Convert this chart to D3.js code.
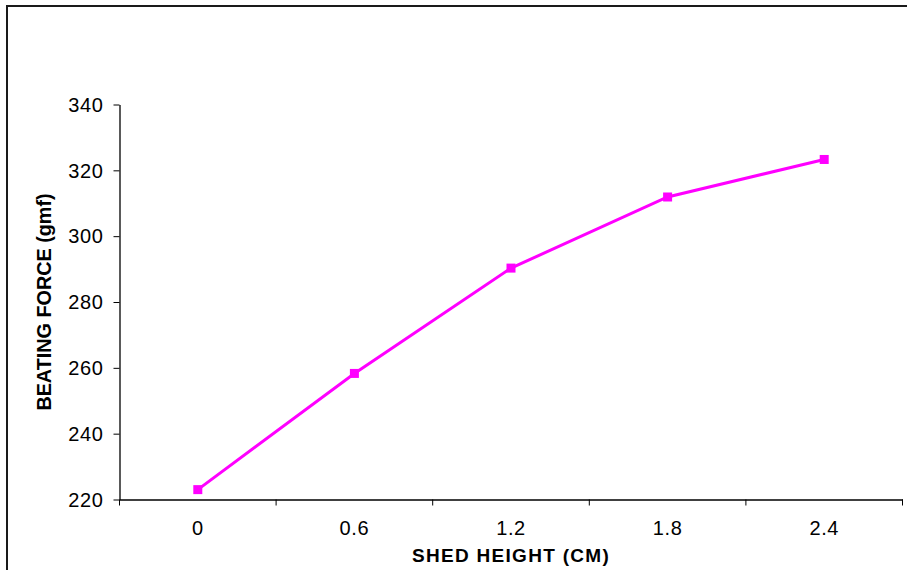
<!DOCTYPE html>
<html>
<head>
<meta charset="utf-8">
<script src="https://cdn.jsdelivr.net/npm/d3@7"></script>
<style>
  body { margin: 0; background: #fff; }
  svg { display: block; }
  text { font-family: "Liberation Sans", Arial, sans-serif; fill: #000; }
</style>
</head>
<body>
<svg id="chart" width="907" height="570"></svg>
<script>
// Data
var shedHeights = ["0", "0.6", "1.2", "1.8", "2.4"];
var beatingForce = [223, 258.3, 290.3, 311.9, 323.3];
var yTicks = [220, 240, 260, 280, 300, 320, 340];

// Plot area
var plot = {left: 119.5, right: 902.5, top: 104.5, bottom: 499.5};

var svg = d3.select("#chart");

// outer frame (runs off the right and bottom edge)
svg.append("rect")
  .attr("x", 7).attr("y", 6)
  .attr("width", 920).attr("height", 600)
  .style("fill", "none")
  .style("stroke", "#1a1a1a")
  .style("stroke-width", 2);

var x = d3.scaleBand()
  .domain(shedHeights)
  .range([plot.left, plot.right]);

var y = d3.scaleLinear()
  .domain([220, 340])
  .range([plot.bottom, plot.top]);

// y axis
var yAxis = svg.append("g")
  .attr("transform", "translate(" + plot.left + ",0)")
  .call(d3.axisLeft(y).tickValues(yTicks).tickSize(6).tickSizeOuter(0).tickPadding(10));

// x axis, ticks between categories like the original
var xAxis = svg.append("g")
  .attr("transform", "translate(0," + plot.bottom + ")")
  .call(d3.axisBottom(x).tickSize(0).tickPadding(21));

xAxis.selectAll(".tick-sep")
  .data(d3.range(shedHeights.length + 1))
  .enter()
  .append("line")
    .attr("class", "tick-sep")
    .attr("x1", function(i) { return plot.left + i * x.step(); })
    .attr("x2", function(i) { return plot.left + i * x.step(); })
    .attr("y1", 0).attr("y2", 6)
    .style("stroke", "#000");

[xAxis, yAxis].forEach(function(a) {
  a.select(".domain").style("stroke", "#000").style("stroke-width", 1.3);
  a.selectAll("line").style("stroke", "#000");
  a.selectAll("text")
    .style("font-family", "'Liberation Sans', Arial, sans-serif")
    .style("font-size", "20px")
    .style("letter-spacing", "0.6px")
    .style("fill", "#000");
});
yAxis.selectAll("text").attr("dy", "0.34em");

// axis titles
svg.append("text")
  .attr("x", (plot.left + plot.right) / 2)
  .attr("y", 562)
  .attr("text-anchor", "middle")
  .style("font-size", "19px")
  .style("font-weight", "bold")
  .style("letter-spacing", "1.3px")
  .text("SHED HEIGHT (CM)");

svg.append("text")
  .attr("transform", "translate(51," + (plot.top + plot.bottom) / 2 + ") rotate(-90)")
  .attr("text-anchor", "middle")
  .style("font-size", "19.8px")
  .style("font-weight", "bold")
  .text("BEATING FORCE (gmf)");

// series
var pts = shedHeights.map(function(h, i) { return {h: h, v: beatingForce[i]}; });
var cx = function(d) { return x(d.h) + x.bandwidth() / 2; };

svg.append("path")
  .datum(pts)
  .attr("d", d3.line().x(cx).y(function(d) { return y(d.v); }))
  .style("fill", "none")
  .style("stroke", "#ff00ff")
  .style("stroke-width", 3);

svg.append("g").selectAll("rect")
  .data(pts)
  .enter()
  .append("rect")
    .attr("x", function(d) { return cx(d) - 4.5; })
    .attr("y", function(d) { return y(d.v) - 4.5; })
    .attr("width", 9)
    .attr("height", 9)
    .style("fill", "#ff00ff");
</script>
</body>
</html>
